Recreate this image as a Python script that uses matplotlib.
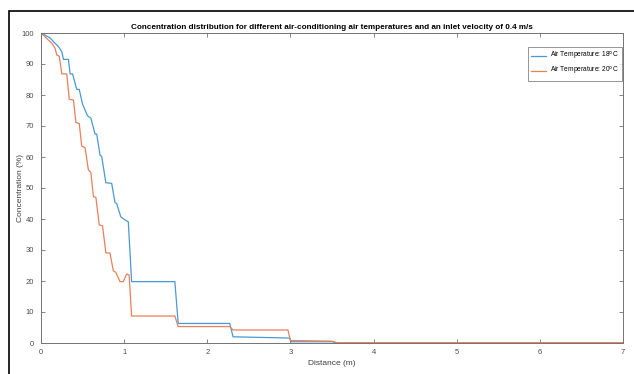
import numpy as np
import matplotlib
matplotlib.use('Agg')
import matplotlib.pyplot as plt
from matplotlib.patches import Rectangle

# readings from the reference (distance in m, concentration in %)
x18 = [0, 0.11, 0.15, 0.21, 0.25, 0.27, 0.33, 0.35, 0.38, 0.43, 0.46, 0.50, 0.56, 0.60,
       0.65, 0.67, 0.71, 0.73, 0.78, 0.85, 0.89, 0.91, 0.96, 1.01, 1.05, 1.09, 1.61, 1.65,
       2.27, 2.31, 2.99, 3.01, 3.50, 3.56, 7.0]
y18 = [100, 98.4, 97.2, 95.6, 94.0, 91.5, 91.5, 86.8, 86.8, 81.8, 81.8, 77.0, 73.3, 72.5,
       67.4, 67.4, 60.6, 60.2, 51.7, 51.5, 45.3, 45.0, 40.7, 39.7, 39.1, 19.8, 19.8, 6.3,
       6.3, 2.0, 1.6, 0.4, 0.4, 0.0, 0.0]

x20 = [0, 0.09, 0.13, 0.17, 0.19, 0.22, 0.25, 0.31, 0.34, 0.39, 0.42, 0.46, 0.49, 0.53,
       0.57, 0.60, 0.63, 0.66, 0.70, 0.74, 0.78, 0.83, 0.87, 0.90, 0.95, 0.99, 1.03, 1.06,
       1.09, 1.61, 1.65, 2.27, 2.31, 2.97, 3.00, 3.50, 3.56, 7.0]
y20 = [100, 97.7, 96.7, 95.0, 92.9, 92.5, 86.8, 86.8, 78.6, 78.4, 71.1, 70.8, 63.5, 63.0,
       55.8, 55.0, 47.2, 47.0, 38.1, 37.8, 29.1, 29.0, 23.3, 22.8, 19.8, 19.8, 22.3, 21.9,
       8.7, 8.7, 5.3, 5.3, 4.2, 4.2, 0.8, 0.6, 0.1, 0.1]

labels = ['Air Temperature: 18$^{\\rm o}$C', 'Air Temperature: 20$^{\\rm o}$C']

plt.rcParams.update({'font.family': 'Liberation Sans', 'font.size': 5.5,
                     'mathtext.default': 'regular'})
fig = plt.figure(figsize=(6.34, 3.74), dpi=100)
ax = fig.add_axes([41/634, 1-343/374, 582/634, 310/374])

ax.plot(x18, y18, color='#4a98d6', lw=0.9, label=labels[0])
ax.plot(x20, y20, color='#e8805a', lw=0.9, label=labels[1])

ax.set_xlim(0, 7); ax.set_ylim(0, 100)
ax.set_xticks(range(8)); ax.set_yticks(range(0, 101, 10))
gc = '0.45'
ax.tick_params(direction='in', length=3, width=0.6, colors=gc, labelcolor='0.3',
               top=True, right=True)
ax.tick_params(axis='y', pad=5)
ax.tick_params(axis='x', pad=4)
for s in ax.spines.values():
    s.set_color(gc); s.set_linewidth(0.7)
ax.set_xlabel('Distance (m)', color='0.25', fontsize=6, labelpad=3)
ax.set_ylabel('Concentration (%)', color='0.25', fontsize=6)
ax.yaxis.set_label_coords((24 - 41) / 582, 0.5)
ax.set_title('Concentration distribution for different air-conditioning air temperatures and an inlet velocity of 0.4 m/s',
             fontsize=5.9, fontweight='bold', pad=3)
leg = ax.legend(loc='upper right', fontsize=4.8, frameon=True, fancybox=False,
                edgecolor='0.4', borderpad=0.5, handlelength=2.3, handletextpad=0.6,
                labelspacing=0.45, borderaxespad=0, bbox_to_anchor=(0.9985, 0.955))
leg.get_frame().set_linewidth(0.6)

# black frame around the figure (clipped on right and bottom in the reference)
fig.patches.append(Rectangle((9/634, -0.1), 1.2, 1 - 11/374 + 0.1, transform=fig.transFigure,
                             fill=False, edgecolor='black', lw=1.2, clip_on=False))

fig.savefig('out.png', dpi=100, facecolor='white')
